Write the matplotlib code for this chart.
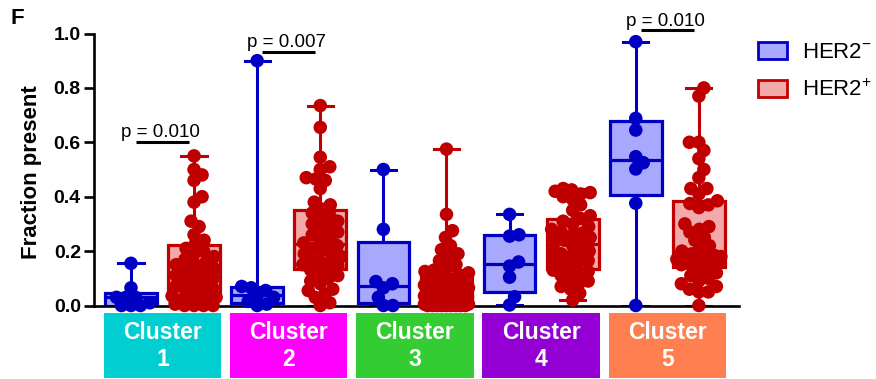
import numpy as np
import matplotlib
matplotlib.use('Agg')
import matplotlib.pyplot as plt
from matplotlib.patches import Patch, Rectangle

plt.rcParams['font.family'] = ['Liberation Sans', 'DejaVu Sans']
plt.rcParams['mathtext.fontset'] = 'custom'
plt.rcParams['mathtext.rm'] = 'Liberation Sans'

# fraction of each cluster present per sample
cluster_names = ['Cluster\n1', 'Cluster\n2', 'Cluster\n3', 'Cluster\n4', 'Cluster\n5']

neg_cluster1 = [0, 0, 0, 0.01, 0.03, 0.03, 0.03, 0.065, 0.155]
neg_cluster2 = [0, 0.005, 0.015, 0.03, 0.037, 0.055, 0.065, 0.07, 0.9]
neg_cluster3 = [0, 0, 0.03, 0.065, 0.08, 0.088, 0.28, 0.5]
neg_cluster4 = [0.002, 0.032, 0.104, 0.145, 0.16, 0.255, 0.26, 0.335]
neg_cluster5 = [0, 0.376, 0.502, 0.525, 0.547, 0.645, 0.688, 0.97]

pos_cluster1 = [0.55, 0.50, 0.48, 0.46, 0.40, 0.38, 0.31, 0.29, 0.26, 0.24, 0.225,
                0.21, 0.20, 0.19, 0.18, 0.17, 0.16, 0.155, 0.15, 0.14, 0.135, 0.13,
                0.12, 0.11, 0.10, 0.095, 0.09, 0.08, 0.07, 0.065, 0.06, 0.05, 0.045,
                0.035, 0.03, 0.02, 0.02, 0.01, 0.01, 0.005, 0, 0, 0, 0]
pos_cluster2 = [0.735, 0.655, 0.545, 0.51, 0.50, 0.47, 0.465, 0.46, 0.43, 0.38, 0.37, 0.355,
                0.34, 0.33, 0.32, 0.31, 0.30, 0.29, 0.28, 0.27, 0.26, 0.25, 0.24, 0.23,
                0.22, 0.21, 0.20, 0.20, 0.19, 0.18, 0.17, 0.165, 0.16, 0.15, 0.145, 0.14,
                0.13, 0.12, 0.11, 0.10, 0.09, 0.08, 0.06, 0.055, 0.04, 0.03, 0.01, 0.0]
pos_cluster3 = [0.575, 0.335, 0.275, 0.25, 0.22, 0.205, 0.19, 0.18, 0.165, 0.15, 0.14, 0.13,
                0.125, 0.12, 0.11, 0.105, 0.10, 0.095, 0.09, 0.085, 0.08, 0.075, 0.07, 0.065,
                0.055, 0.05, 0.045, 0.04, 0.035, 0.03, 0.025, 0.02, 0.02, 0.015, 0.01, 0.01,
                0.005, 0.005, 0.005, 0, 0, 0, 0, 0, 0, 0, 0, 0]
pos_cluster4 = [0.43, 0.425, 0.42, 0.415, 0.41, 0.40, 0.39, 0.37, 0.35, 0.33, 0.32,
                0.31, 0.30, 0.29, 0.28, 0.27, 0.265, 0.26, 0.25, 0.245, 0.24, 0.23,
                0.22, 0.21, 0.20, 0.195, 0.19, 0.18, 0.17, 0.165, 0.16, 0.15, 0.14,
                0.13, 0.125, 0.12, 0.11, 0.10, 0.09, 0.08, 0.07, 0.06, 0.045, 0.02]
pos_cluster5 = [0.80, 0.77, 0.60, 0.60, 0.57, 0.54, 0.50, 0.47, 0.43, 0.43, 0.41, 0.385,
                0.375, 0.37, 0.36, 0.30, 0.29, 0.28, 0.27, 0.25, 0.24, 0.22, 0.21, 0.20,
                0.19, 0.185, 0.18, 0.175, 0.17, 0.17, 0.165, 0.16, 0.155, 0.155, 0.15, 0.15,
                0.14, 0.13, 0.12, 0.11, 0.10, 0.09, 0.08, 0.07, 0.06, 0.05, 0.05, 0.0]

her2_neg = [neg_cluster1, neg_cluster2, neg_cluster3, neg_cluster4, neg_cluster5]
her2_pos = [pos_cluster1, pos_cluster2, pos_cluster3, pos_cluster4, pos_cluster5]

# significance bars: which cluster, bar height, label
p_clusters = [0, 1, 4]
p_heights = [0.602, 0.933, 1.013]
p_labels = ['p = 0.010', 'p = 0.007', 'p = 0.010']

cluster_colors = ['#00CED1', '#FF00FF', '#33CC33', '#9400D3', '#FF7F50']
blue_dark, blue_fill = '#0000C4', '#A8A8FF'
red_dark, red_fill = '#C00000', '#F2A9A9'


def prism_stats(vals):
    v = np.asarray(vals, dtype=float)
    q1, med, q3 = np.percentile(v, [25, 50, 75], method='weibull')
    return dict(med=med, q1=q1, q3=q3, whislo=v.min(), whishi=v.max(), fliers=[])


def swarm_offsets(y_px, diam, max_half):
    # greedy beeswarm in pixel space, nearest-to-centre free slot
    steps = np.arange(0.5, max_half + 0.01, 0.5)
    cands = [0.0]
    for s in steps:
        cands += [s, -s]
    xs = np.zeros(len(y_px))
    placed = []
    for i in np.argsort(y_px):
        y = y_px[i]
        best = None
        for c in cands:
            if all((c - px) ** 2 + (y - py) ** 2 >= diam ** 2 for px, py in placed):
                best = c
                break
        if best is None:
            best = max(cands, key=lambda c: min((c - px) ** 2 + (y - py) ** 2 for px, py in placed))
        xs[i] = best
        placed.append((best, y))
    return xs


fig = plt.figure(figsize=(8.76, 3.79), dpi=100)
ax = fig.add_axes([94 / 876, 73.5 / 379, 645 / 876, 272 / 379])
ax.set_xlim(-0.586, 9.636)
ax.set_ylim(0, 1.0)

bb = ax.get_window_extent()
px_per_x = bb.width / (9.636 + 0.586)
px_per_y = bb.height / 1.0

for i in range(5):
    for k, (vals, dark, fill) in enumerate([(her2_neg[i], blue_dark, blue_fill),
                                           (her2_pos[i], red_dark, red_fill)]):
        pos = 2 * i + k
        ax.bxp([prism_stats(vals)], positions=[pos], widths=0.82, capwidths=0.4,
               patch_artist=True, showfliers=False, manage_ticks=False,
               boxprops=dict(facecolor=fill, edgecolor=dark, linewidth=2.3),
               medianprops=dict(color=dark, linewidth=2.3),
               whiskerprops=dict(color=dark, linewidth=2.2),
               capprops=dict(color=dark, linewidth=2.2), zorder=2)
        y = np.asarray(vals, dtype=float)
        dx = swarm_offsets(y * px_per_y, 9.5, 22) / px_per_x
        ax.scatter(pos + dx, y, s=95, color=dark, edgecolors='none', zorder=3, clip_on=False)

# p-value bars
for c, h, lab in zip(p_clusters, p_heights, p_labels):
    x0, x1 = 2 * c + 0.08, 2 * c + 0.92
    ax.plot([x0, x1], [h, h], color='black', lw=2.2, clip_on=False, solid_capstyle='butt')
    ax.text((x0 + x1) / 2 - 0.03, h + 0.016, lab, ha='center', va='baseline',
            fontsize=13.5, clip_on=False)

# coloured cluster tags under the axis
for i, (name, col) in enumerate(zip(cluster_names, cluster_colors)):
    xc = 2 * i + 0.5
    ax.add_patch(Rectangle((xc - 0.93, -0.267), 1.86, 0.239, facecolor=col,
                           edgecolor='none', clip_on=False))
    ax.text(xc, -0.148, name, ha='center', va='center', color='white', fontsize=16.5,
            fontweight='bold', linespacing=1.2, clip_on=False)

ax.spines['top'].set_visible(False)
ax.spines['right'].set_visible(False)
ax.spines['left'].set_linewidth(1.9)
ax.spines['bottom'].set_linewidth(1.9)
ax.set_xticks([])
ax.set_yticks([0, 0.2, 0.4, 0.6, 0.8, 1.0])
ax.set_yticklabels(['0.0', '0.2', '0.4', '0.6', '0.8', '1.0'])
ax.tick_params(axis='y', length=7, width=1.9, pad=2.5, labelsize=14)
for t in ax.get_yticklabels():
    t.set_fontweight('bold')
ax.set_ylabel('Fraction present', fontsize=16, fontweight='bold')
ax.yaxis.set_label_coords(-0.08, 0.49)

handles = [Patch(facecolor=blue_fill, edgecolor=blue_dark, linewidth=2),
           Patch(facecolor=red_fill, edgecolor=red_dark, linewidth=2)]
fig.legend(handles, [r'HER2$^{-}$', r'HER2$^{+}$'], loc='upper left',
           bbox_to_anchor=(758 / 876, 1 - 42 / 379), frameon=False, fontsize=16,
           handlelength=1.3, handleheight=0.77, labelspacing=0.75, handletextpad=0.7,
           borderpad=0, borderaxespad=0)

fig.text(10 / 876, 1 - 18 / 379, 'F', fontsize=16, fontweight='bold', va='center')

fig.savefig('out.png', dpi=100)
